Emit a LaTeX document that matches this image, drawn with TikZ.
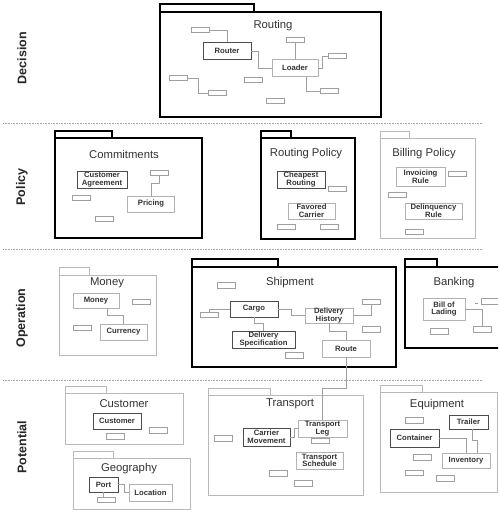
\documentclass[tikz,border=0pt]{standalone}
\usepackage{fontspec}
\setmainfont{Liberation Sans}
\usetikzlibrary{positioning,calc}

\tikzset{
  pkgthick/.style={draw=black, line width=2.4pt},
  pkglight/.style={draw=gray!55, line width=0.9pt},
  pkgtitle/.style={font=\fontsize{11.3}{13}\selectfont, text=black!80},
  cls/.style={draw=black!70, line width=0.9pt, inner sep=0pt, minimum width=48, minimum height=17,
    align=center, font=\fontsize{7.7}{7.7}\selectfont\bfseries, text=black!80},
  clslight/.style={cls, draw=gray!60},
  stub/.style={draw=gray!75, line width=0.8pt, minimum width=18, minimum height=5.5, inner sep=0pt},
  link/.style={draw=gray!75, line width=0.8pt},
  layer/.style={rotate=90, font=\fontsize{12.5}{14}\selectfont\bfseries, text=black!85},
  divider/.style={gray!70, line width=0.8pt, dash pattern=on 0.8pt off 0.8pt}
}

\begin{document}
\begin{tikzpicture}[x=1pt, y=-1pt]
    \clip (0,0) rectangle (498,510);
    \fill[white] (0,0) rectangle (498,510);

    % Layers
    \node[layer] (decision) at (22,58) {Decision};
    \node[layer] (policy) at (22,187) {Policy};
    \node[layer] (operation) at (22,318) {Operation};
    \node[layer] (potential) at (22,447) {Potential};
    \foreach \y in {123,249,380}
        \draw[divider] (3,\y) -- (483,\y);

    % Routing
    \draw[pkgthick] (160,4) rectangle (254,12);
    \draw[pkgthick] (160,12) rectangle (381,117);
    \node[pkgtitle] (routingT) at (273,26) {Routing};
    \node[cls] (router) at (227,51) {Router};
    \node[clslight, minimum width=46] (loader) at (295,68) {Loader};
    \foreach \x/\y [count=\i] in {200/30, 295/40, 337/56, 329/91, 178/78, 217/93, 253/80, 275/101}
        \node[stub] (r\i) at (\x,\y) {};
    \draw[link] (r1.east) -| (router.north);
    \draw[link] (router.east) -- ++(7,0) |- (loader.west);
    \draw[link] (r2.south) -- (loader.north);
    \draw[link] (loader.east) -- ++(4,0) |- (r3.west);
    \draw[link] ([xshift=11]loader.south) |- (r4.west);
    \draw[link] (r5.east) -- ++(11,0) |- (r6.west);

    % Commitments
    \draw[pkgthick] (55,131) rectangle (112,138);
    \draw[pkgthick] (55,138) rectangle (202,238);
    \node[pkgtitle] (commitT) at (124,154) {Commitments};
    \node[cls, minimum width=50] (agreement) at (102,179.5) {Customer\\Agreement};
    \node[clslight, minimum width=47, minimum height=16] (pricing) at (151,204) {Pricing};
    \foreach \x/\y [count=\i] in {159/173, 81/198, 104/219}
        \node[stub] (c\i) at (\x,\y) {};
    \draw[link] (c1.south) -- ++(0,7) -| (pricing.north);

    % Routing Policy
    \draw[pkgthick] (261,131) rectangle (291,138);
    \draw[pkgthick] (261,138) rectangle (355,239);
    \node[pkgtitle] (rpolicyT) at (306,154) {Routing Policy};
    \node[cls] (cheapest) at (301,179.5) {Cheapest\\Routing};
    \node[clslight, minimum width=47, minimum height=16] (favored) at (311.5,211) {Favored\\Carrier};
    \foreach \x/\y [count=\i] in {337/189, 286/227, 329/227}
        \node[stub] (p\i) at (\x,\y) {};

    % Billing Policy
    \draw[pkglight] (380,131) rectangle (409,138);
    \draw[pkglight] (380,138) rectangle (475,238);
    \node[pkgtitle] (bpolicyT) at (424,154) {Billing Policy};
    \node[clslight, minimum width=49, minimum height=19] (invoicing) at (420.5,176.5) {Invoicing\\Rule};
    \node[clslight, minimum width=57, minimum height=16] (delinquency) at (433.5,211) {Delinquency\\Rule};
    \foreach \x/\y [count=\i] in {457/174, 397/195, 414/232}
        \node[stub] (b\i) at (\x,\y) {};

    % Money
    \draw[pkglight] (59,267) rectangle (89,275);
    \draw[pkglight] (59,275) rectangle (156,355);
    \node[pkgtitle] (moneyT) at (107,283) {Money};
    \node[clslight, minimum width=46, minimum height=15] (money) at (96,300.5) {Money};
    \node[clslight, minimum width=47, minimum height=16] (currency) at (123.5,332) {Currency};
    \foreach \x/\y [count=\i] in {141/302, 82/328}
        \node[stub] (m\i) at (\x,\y) {};
    \draw[link] ([xshift=11]money.south) -- ++(0,7) -| (currency.north);

    % Shipment
    \draw[pkgthick] (192,259) rectangle (278,267);
    \draw[pkgthick] (192,267) rectangle (396,367);
    \node[pkgtitle] (shipmentT) at (290,283) {Shipment};
    \node[cls, minimum height=16] (cargo) at (254,309) {Cargo};
    \node[cls, minimum width=63] (dspec) at (263.5,339.5) {Delivery\\Specification};
    \node[clslight, minimum height=15] (dhist) at (329,315.5) {Delivery\\History};
    \node[clslight] (route) at (346,348.5) {Route};
    \foreach \x/\y [count=\i] in {226/285.5, 209/315, 371.5/302, 371.5/329.5, 294.5/355.5}
        \node[stub] (s\i) at (\x,\y) {};
    \draw[link] (s2.north) |- (cargo.west);
    \draw[link] (cargo.east) -- ++(13,0) |- (dhist.west);
    \draw[link] (cargo.south) -- ++(0,6) -| (dspec.north);
    \draw[link] (dhist.east) -| (s3.south);
    \draw[link] (dhist.south) -- ++(0,8) -| (route.north);

    % Banking
    \draw[pkgthick] (405,259) rectangle (437,267);
    \draw[pkgthick] (405,267) rectangle (505,348);
    \node[pkgtitle] (bankingT) at (454,283) {Banking};
    \node[clslight, minimum width=42, minimum height=22] (lading) at (444,309) {Bill of\\Lading};
    \foreach \x/\y [count=\i] in {490.5/301.5, 482.5/329.5, 439/331.5}
        \node[stub] (k\i) at (\x,\y) {};
    \draw[link] (lading.east) -| (k2.north);
    \draw[link] ([xshift=10,yshift=6]lading.east) -- ++(3,0);

    % Customer
    \draw[pkglight] (65,386) rectangle (106,393);
    \draw[pkglight] (65,393) rectangle (183,444);
    \node[pkgtitle] (customerT) at (124,404) {Customer};
    \node[cls, minimum height=16] (customer) at (117,421) {Customer};
    \foreach \x/\y [count=\i] in {158.5/430.5, 115.5/436.5}
        \node[stub] (u\i) at (\x,\y) {};

    % Geography
    \draw[pkglight] (73,451) rectangle (113,458);
    \draw[pkglight] (73,458) rectangle (190,509);
    \node[pkgtitle] (geographyT) at (129,469) {Geography};
    \node[cls, minimum width=29, minimum height=15] (port) at (103.5,484.5) {Port};
    \node[clslight, minimum width=43] (location) at (150.5,492.5) {Location};
    \node[stub] (g1) at (106.5,500) {};
    \draw[link] (port.east) -- ++(6,0) |- (location.west);
    \draw[link] (port.south) -- (port.south |- g1.north);

    % Transport
    \draw[pkglight] (208,388) rectangle (270,395);
    \draw[pkglight] (208,395) rectangle (363,495);
    \node[pkgtitle] (transportT) at (290,404) {Transport};
    \node[cls, minimum width=47, minimum height=18] (movement) at (266.5,437) {Carrier\\Movement};
    \node[clslight, minimum width=49] (leg) at (322.5,428.5) {Transport\\Leg};
    \node[clslight, minimum width=47] (schedule) at (319.5,460.5) {Transport\\Schedule};
    \foreach \x/\y [count=\i] in {223.5/438.5, 320.5/441, 278/473.5, 303/483.5}
        \node[stub] (t\i) at (\x,\y) {};
    \draw[link] (movement.east) -- ++(4,0) |- (leg.west);
    \draw[link] (route.south) -- ++(0,31) -| (leg.north);

    % Equipment
    \draw[pkglight] (380,385) rectangle (422,392);
    \draw[pkglight] (380,392) rectangle (497,492);
    \node[pkgtitle] (equipmentT) at (437,405) {Equipment};
    \node[cls, minimum width=39, minimum height=14] (trailer) at (468.5,422) {Trailer};
    \node[cls, minimum width=49, minimum height=18] (container) at (414.5,438) {Container};
    \node[clslight, minimum height=15] (inventory) at (466,460.5) {Inventory};
    \foreach \x/\y [count=\i] in {414.5/420.5, 422/457.5, 414.5/473, 445.5/478.5}
        \node[stub] (e\i) at (\x,\y) {};
    \draw[link] (container.east) -| (inventory.north);
    \draw[link] ([xshift=3.5]trailer.south) -- ++(0,11) -| ([xshift=11]inventory.north);
\end{tikzpicture}
\end{document}
